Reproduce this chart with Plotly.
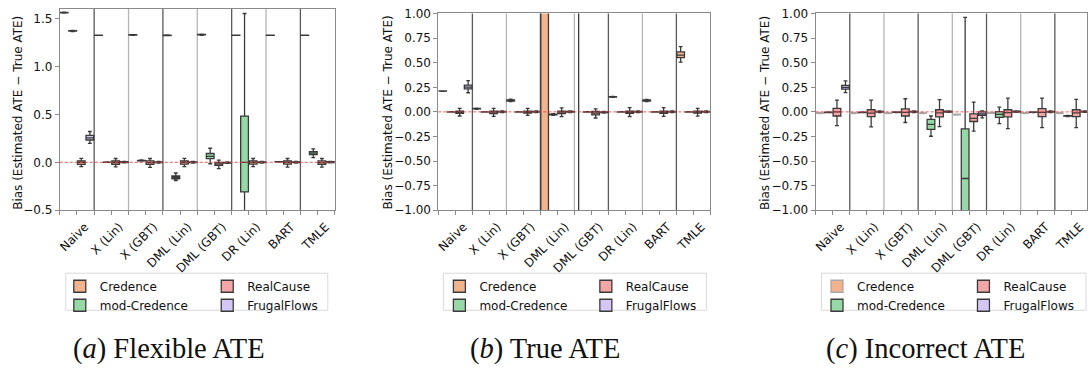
import plotly.graph_objects as go

W, H = 1088, 376

METHODS = ["Naive", "X (Lin)", "X (GBT)", "DML (Lin)", "DML (GBT)", "DR (Lin)", "BART", "TMLE"]
SERIES = ["Credence", "mod-Credence", "RealCause", "FrugalFlows"]
FILLS = ["#F2B48C", "#96D8A6", "#F4A5A5", "#D4C6F5"]

YTICKS_A = [-0.5, 0.0, 0.5, 1.0, 1.5]
YTICKTEXT_A = ["\u22120.5", "0.0", "0.5", "1.0", "1.5"]
YTICKS_BC = [-1.0, -0.75, -0.5, -0.25, 0.0, 0.25, 0.5, 0.75, 1.0]
YTICKTEXT_BC = ["\u22121.00", "\u22120.75", "\u22120.50", "\u22120.25", "0.00", "0.25", "0.50", "0.75", "1.00"]

# ---------------- (a) Flexible ATE ----------------
a_cred = dict(
    lo=[1.560, 1.326, 1.327, 1.323, 1.328, 1.326, 1.326, 1.326],
    q1=[1.562, 1.327, 1.329, 1.325, 1.331, 1.327, 1.327, 1.327],
    med=[1.565, 1.328, 1.331, 1.327, 1.334, 1.328, 1.328, 1.328],
    q3=[1.568, 1.329, 1.333, 1.329, 1.337, 1.329, 1.329, 1.329],
    hi=[1.570, 1.330, 1.335, 1.331, 1.340, 1.330, 1.330, 1.330],
)
a_mod = dict(
    lo=[1.367, -0.001, 0.012, -0.190, -0.015, -0.950, 0.003, 0.048],
    q1=[1.370, 0.000, 0.015, -0.172, 0.038, -0.310, 0.004, 0.080],
    med=[1.373, 0.001, 0.018, -0.158, 0.063, 0.000, 0.005, 0.097],
    q3=[1.376, 0.002, 0.021, -0.143, 0.092, 0.483, 0.006, 0.112],
    hi=[1.379, 0.003, 0.024, -0.112, 0.147, 1.555, 0.007, 0.140],
)
a_real = dict(
    lo=[-0.046, -0.048, -0.052, -0.045, -0.066, -0.046, -0.050, -0.050],
    q1=[-0.022, -0.022, -0.022, -0.020, -0.033, -0.020, -0.020, -0.022],
    med=[0.000, -0.002, -0.003, 0.000, -0.017, 0.000, 0.000, -0.004],
    q3=[0.016, 0.016, 0.016, 0.016, 0.000, 0.016, 0.016, 0.014],
    hi=[0.041, 0.040, 0.040, 0.041, 0.022, 0.040, 0.040, 0.040],
)
a_frugal = dict(
    lo=[0.197, -0.006, -0.007, -0.007, -0.012, -0.007, -0.007, -0.006],
    q1=[0.233, -0.002, -0.003, -0.003, -0.008, -0.003, -0.003, -0.002],
    med=[0.256, 0.002, 0.001, 0.001, -0.004, 0.001, 0.001, 0.002],
    q3=[0.281, 0.006, 0.005, 0.005, 0.000, 0.005, 0.005, 0.006],
    hi=[0.322, 0.010, 0.009, 0.009, 0.004, 0.009, 0.009, 0.010],
)

# ---------------- (b) True ATE ----------------
b_cred = dict(
    lo=[0.210, 0.027, 0.104, -5.0, -3.0, 0.148, 0.106, 0.506],
    q1=[0.211, 0.030, 0.110, -3.0, 2.0, 0.150, 0.111, 0.553],
    med=[0.212, 0.033, 0.117, 2.0, 2.5, 0.153, 0.117, 0.577],
    q3=[0.213, 0.036, 0.123, 4.0, 3.0, 0.156, 0.122, 0.610],
    hi=[0.214, 0.039, 0.129, 6.0, 4.0, 0.158, 0.127, 0.665],
)
b_mod = dict(
    lo=[-0.003, -0.003, -0.003, -0.035, -0.003, -0.003, -0.003, -0.003],
    q1=[-0.001, -0.001, -0.001, -0.031, -0.001, -0.001, -0.001, -0.001],
    med=[0.000, 0.000, 0.000, -0.027, 0.000, 0.000, 0.000, 0.000],
    q3=[0.001, 0.001, 0.001, -0.023, 0.001, 0.001, 0.001, 0.001],
    hi=[0.003, 0.003, 0.003, -0.019, 0.003, 0.003, 0.003, 0.003],
)
b_real = dict(
    lo=[-0.042, -0.045, -0.035, -0.048, -0.062, -0.047, -0.046, -0.044],
    q1=[-0.015, -0.018, -0.013, -0.017, -0.030, -0.015, -0.014, -0.013],
    med=[0.000, -0.003, 0.000, -0.002, -0.012, 0.000, 0.000, 0.000],
    q3=[0.008, 0.007, 0.008, 0.008, 0.004, 0.008, 0.008, 0.007],
    hi=[0.036, 0.036, 0.036, 0.040, 0.030, 0.044, 0.044, 0.036],
)
b_frugal = dict(
    lo=[0.195, -0.007, -0.007, -0.007, -0.012, -0.007, -0.007, -0.007],
    q1=[0.234, -0.003, -0.003, -0.003, -0.008, -0.003, -0.003, -0.003],
    med=[0.253, 0.001, 0.001, 0.001, -0.004, 0.001, 0.001, 0.001],
    q3=[0.272, 0.005, 0.005, 0.005, 0.000, 0.005, 0.005, 0.005],
    hi=[0.318, 0.009, 0.009, 0.009, 0.004, 0.009, 0.009, 0.009],
)

# ---------------- (c) Incorrect ATE ----------------
c_cred = dict(
    lo=[-0.017, -0.017, -0.017, -0.018, -0.032, -0.016, -0.017, -0.017],
    q1=[-0.015, -0.015, -0.015, -0.016, -0.030, -0.014, -0.015, -0.015],
    med=[-0.012, -0.012, -0.012, -0.013, -0.027, -0.011, -0.012, -0.012],
    q3=[-0.009, -0.009, -0.009, -0.010, -0.024, -0.008, -0.009, -0.009],
    hi=[-0.007, -0.007, -0.007, -0.008, -0.022, -0.006, -0.007, -0.007],
)
c_mod = dict(
    lo=[-0.008, -0.008, -0.007, -0.248, -3.000, -0.120, -0.007, -0.047],
    q1=[-0.006, -0.006, -0.005, -0.178, -1.800, -0.055, -0.005, -0.044],
    med=[-0.004, -0.004, -0.003, -0.127, -0.678, -0.026, -0.003, -0.041],
    q3=[-0.002, -0.002, -0.001, -0.076, -0.173, 0.003, -0.001, -0.038],
    hi=[0.000, 0.000, 0.001, -0.042, 0.962, 0.049, 0.001, -0.035],
)
c_real = dict(
    lo=[-0.140, -0.153, -0.108, -0.150, -0.196, -0.170, -0.160, -0.160],
    q1=[-0.042, -0.049, -0.042, -0.050, -0.098, -0.050, -0.049, -0.049],
    med=[0.000, -0.012, -0.005, -0.010, -0.065, -0.007, -0.005, -0.010],
    q3=[0.036, 0.022, 0.030, 0.022, -0.020, 0.022, 0.033, 0.022],
    hi=[0.120, 0.120, 0.134, 0.124, 0.100, 0.140, 0.140, 0.127],
)
c_frugal = dict(
    lo=[0.196, -0.006, -0.006, -0.005, -0.060, -0.005, -0.006, -0.005],
    q1=[0.232, -0.002, -0.002, -0.001, -0.036, -0.001, -0.002, -0.001],
    med=[0.250, 0.002, 0.002, 0.003, -0.020, 0.003, 0.002, 0.003],
    q3=[0.270, 0.006, 0.006, 0.007, 0.000, 0.007, 0.006, 0.007],
    hi=[0.316, 0.010, 0.010, 0.011, 0.010, 0.011, 0.010, 0.011],
)

CAPTIONS = ["(<i>a</i>) Flexible ATE", "(<i>b</i>) True ATE", "(<i>c</i>) Incorrect ATE"]
YTITLE = "Bias (Estimated ATE \u2212 True ATE)"

# --------------- layout geometry (pixels) ---------------
def fx(p):
    return p / W


def fy(p):
    return 1 - p / H


PANELS = [
    dict(series=[a_cred, a_mod, a_real, a_frugal], xdom=(57, 333), ytop=2, ybot=211,
         yrange=[-0.5, 1.603], yt=YTICKS_A, ytt=YTICKTEXT_A, xr=[-0.5, 7.5],
         legs=(57, 205), legbox=(63, 326), ytitle_x=15, cap_x=166.5),
    dict(series=[b_cred, b_mod, b_real, b_frugal], xdom=(437, 710), ytop=6.7, ybot=211,
         yrange=[-1, 1.002], yt=YTICKS_BC, ytt=YTICKTEXT_BC, xr=[-0.5, 7.5],
         legs=(438, 585), legbox=(442, 706), ytitle_x=386, cap_x=544),
    dict(series=[c_cred, c_mod, c_real, c_frugal], xdom=(815.6, 1088), ytop=6.7, ybot=211,
         yrange=[-1, 1.002], yt=YTICKS_BC, ytt=YTICKTEXT_BC, xr=[-0.5, 7.44],
         legs=(817, 964), legbox=(821.5, 1087), ytitle_x=765, cap_x=925.5),
]

FONT = "DejaVu Sans"
SERIF = "Liberation Serif"
FS = 12
AXC = "#8a8a8a"
SLOT = 1.0 / len(SERIES)
BOXW = SLOT * 0.9

fig = go.Figure()
positions = list(range(len(METHODS)))
shapes = []
annotations = []
layout_extra = {}

for p, panel in enumerate(PANELS):
    sfx = "" if p == 0 else str(p + 1)
    xref, yref = "x" + sfx, "y" + sfx
    leg1 = "legend" if p == 0 else "legend" + str(2 * p + 1)
    leg2 = "legend" + str(2 * p + 2)
    for s, (name, data) in enumerate(zip(SERIES, panel["series"])):
        lc = "#3a3a3a"
        if p == 2 and s == 0:
            lc = "#a8a8a8"
        offset = (s - (len(SERIES) - 1) / 2) * SLOT
        fig.add_trace(go.Box(
            x=[i + offset for i in positions], q1=data["q1"], median=data["med"], q3=data["q3"],
            lowerfence=data["lo"], upperfence=data["hi"], width=BOXW,
            name=name, fillcolor=FILLS[s], line=dict(color=lc, width=1.3),
            whiskerwidth=0.5, boxpoints=False, hoverinfo="skip",
            xaxis=xref, yaxis=yref, legend=leg1 if s < 2 else leg2,
            showlegend=True,
        ))
    x0, x1 = panel["xdom"]
    layout_extra["xaxis" + sfx] = dict(
        domain=[fx(x0), fx(x1)], range=panel["xr"], anchor=yref,
        tickmode="array", tickvals=positions, ticktext=METHODS, tickangle=-45,
        ticks="outside", ticklen=4, tickcolor=AXC, showgrid=False, zeroline=False,
        showline=True, linecolor=AXC, linewidth=1, mirror=True, ticklabelshift=8,
        tickfont=dict(family=FONT, size=FS, color="#111"),
        minor=dict(tickmode="array", tickvals=[k - 0.5 for k in range(len(METHODS) + 1)],
                   ticks="outside", ticklen=4, tickcolor=AXC),
    )
    layout_extra["yaxis" + sfx] = dict(
        domain=[fy(panel["ybot"]), fy(panel["ytop"])], range=panel["yrange"], anchor=xref,
        tickmode="array", tickvals=panel["yt"], ticktext=panel["ytt"],
        ticks="outside", ticklen=4, tickcolor=AXC, showgrid=False, zeroline=False,
        showline=True, linecolor=AXC, linewidth=1, mirror=True,
        tickfont=dict(family=FONT, size=FS, color="#111"),
    )
    # group separators
    for k in range(len(METHODS) - 1):
        shapes.append(dict(type="line", xref=xref, yref=yref + " domain",
                           x0=k + 0.5, x1=k + 0.5, y0=0, y1=1, layer="below",
                           line=dict(color="#5a5a5a" if k % 2 == 0 else "#b5b5b5", width=1.3)))
    # zero reference line
    shapes.append(dict(type="line", xref=xref + " domain", yref=yref, x0=0, x1=1, y0=0, y1=0,
                       layer="above", line=dict(color="rgba(235,60,60,0.85)", width=1, dash="3px,2px")))
    # legends
    l1x, l2x = panel["legs"]
    for lname, lx in ((leg1, l1x), (leg2, l2x)):
        layout_extra[lname] = dict(
            x=fx(lx), y=fy(275), xanchor="left", yanchor="top", orientation="v",
            bgcolor="rgba(0,0,0,0)", borderwidth=0, tracegroupgap=0,
            font=dict(family=FONT, size=FS, color="#111"),
        )
    bx0, bx1 = panel["legbox"]
    shapes.append(dict(type="rect", xref="paper", yref="paper", x0=fx(bx0), x1=fx(bx1),
                       y0=fy(315), y1=fy(276.5), line=dict(color="#d9d9d9", width=1),
                       fillcolor="rgba(0,0,0,0)", layer="below"))
    # y-axis title
    annotations.append(dict(text=YTITLE, xref="paper", yref="paper", x=fx(panel["ytitle_x"]),
                            y=fy(110), xanchor="center", yanchor="middle", textangle=-90,
                            showarrow=False, font=dict(family=FONT, size=FS, color="#111")))
    # caption
    annotations.append(dict(text=CAPTIONS[p], xref="paper", yref="paper", x=fx(panel["cap_x"]),
                            y=fy(355), xanchor="center", yanchor="middle", showarrow=False,
                            font=dict(family=SERIF, size=28.5, color="#111")))

fig.update_layout(
    width=W, height=H, margin=dict(l=0, r=0, t=0, b=0),
    paper_bgcolor="white", plot_bgcolor="white",
    boxmode="overlay",
    shapes=shapes, annotations=annotations,
    **layout_extra,
)

fig.write_html("out.html")
